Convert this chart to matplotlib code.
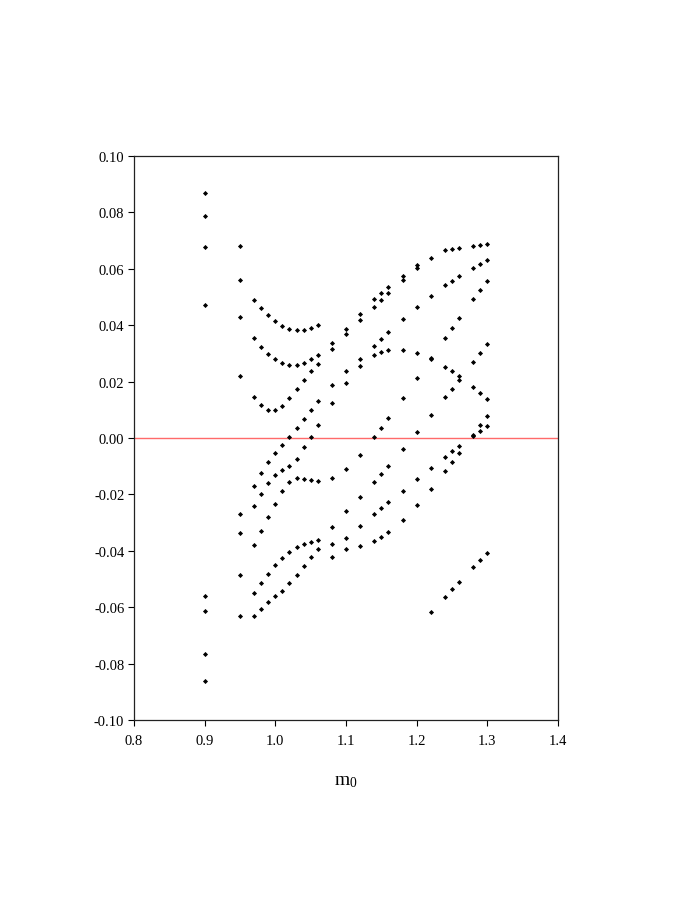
import matplotlib
matplotlib.use("Agg")
import matplotlib.pyplot as plt
from matplotlib.ticker import FormatStrFormatter

plt.rcParams['font.family'] = ['Liberation Serif', 'DejaVu Serif']
plt.rcParams['mathtext.fontset'] = 'custom'
plt.rcParams['mathtext.rm'] = 'Liberation Serif'
plt.rcParams['mathtext.it'] = 'Liberation Serif'
plt.rcParams['axes.unicode_minus'] = False

# m0 values (columns) and the eigenvalues found at each
m0 = [0.90, 0.95, 0.97, 0.98, 0.99, 1.00, 1.01, 1.02, 1.03, 1.04, 1.05, 1.06,
      1.08, 1.10, 1.12, 1.14, 1.15, 1.16, 1.18, 1.20, 1.22, 1.24, 1.25, 1.26,
      1.28, 1.29, 1.30]

values = [
    [0.0868, 0.0788, 0.0677, 0.0473, -0.0560, -0.0613, -0.0766, -0.0863],
    [0.0680, 0.0561, 0.0430, 0.0221, -0.0271, -0.0336, -0.0486, -0.0631],
    [0.0489, 0.0355, 0.0144, -0.0169, -0.0240, -0.0381, -0.0551, -0.0631],
    [0.0461, 0.0324, 0.0117, -0.0123, -0.0197, -0.0330, -0.0514, -0.0605],
    [0.0435, 0.0299, 0.0100, -0.0085, -0.0160, -0.0280, -0.0482, -0.0582],
    [0.0414, 0.0279, 0.0100, -0.0053, -0.0130, -0.0233, -0.0452, -0.0561],
    [0.0398, 0.0267, 0.0115, -0.0026, -0.0113, -0.0189, -0.0426, -0.0541],
    [0.0388, 0.0260, 0.0143, 0.0005, -0.0100, -0.0155, -0.0404, -0.0515],
    [0.0383, 0.0260, 0.0175, 0.0035, -0.0074, -0.0143, -0.0388, -0.0486],
    [0.0384, 0.0267, 0.0207, 0.0069, -0.0033, -0.0145, -0.0376, -0.0455],
    [0.0390, 0.0279, 0.0238, 0.0100, 0.0005, -0.0150, -0.0369, -0.0423],
    [0.0402, 0.0296, 0.0264, 0.0131, 0.0046, -0.0151, -0.0361, -0.0395],
    [0.0338, 0.0316, 0.0189, 0.0123, -0.0142, -0.0317, -0.0375, -0.0423],
    [0.0387, 0.0368, 0.0238, 0.0194, -0.0110, -0.0260, -0.0355, -0.0394],
    [0.0440, 0.0418, 0.0280, 0.0255, -0.0059, -0.0208, -0.0313, -0.0383],
    [0.0493, 0.0466, 0.0325, 0.0296, 0.0002, -0.0155, -0.0271, -0.0365],
    [0.0514, 0.0491, 0.0351, 0.0306, 0.0035, -0.0126, -0.0249, -0.0350],
    [0.0534, 0.0514, 0.0377, 0.0312, 0.0071, -0.0098, -0.0227, -0.0332],
    [0.0573, 0.0561, 0.0423, 0.0312, 0.0142, -0.0038, -0.0187, -0.0290],
    [0.0615, 0.0603, 0.0466, 0.0301, 0.0214, 0.0020, -0.0145, -0.0238],
    [0.0639, 0.0505, 0.0285, 0.0280, 0.0083, -0.0105, -0.0180, -0.0617],
    [0.0666, 0.0541, 0.0355, 0.0253, 0.0144, -0.0066, -0.0118, -0.0563],
    [0.0670, 0.0558, 0.0389, 0.0236, 0.0175, -0.0047, -0.0086, -0.0535],
    [0.0675, 0.0574, 0.0424, 0.0220, 0.0207, -0.0028, -0.0053, -0.0509],
    [0.0682, 0.0604, 0.0492, 0.0271, 0.0180, 0.0011, 0.0006, -0.0457],
    [0.0684, 0.0618, 0.0525, 0.0303, 0.0160, 0.0045, 0.0025, -0.0433],
    [0.0688, 0.0632, 0.0558, 0.0332, 0.0137, 0.0078, 0.0043, -0.0408],
]

xticks = [0.8, 0.9, 1.0, 1.1, 1.2, 1.3, 1.4]
yticks = [-0.10, -0.08, -0.06, -0.04, -0.02, 0.00, 0.02, 0.04, 0.06, 0.08, 0.10]
xlabel = r'$\mathregular{m_0}$'

xs = [x for x, col in zip(m0, values) for _ in col]
ys = [v for col in values for v in col]

fig = plt.figure(figsize=(6.92, 9.04), dpi=100)
ax = fig.add_axes([134/692, 1-721/904, (558-134)/692, (721-157)/904])

ax.axhline(0.0, color='#ff6a6a', lw=1.0, zorder=1)
ax.plot(xs, ys, linestyle='none', marker='D', markersize=2.6,
        color='black', markeredgewidth=0, zorder=3)

ax.set_xlim(0.8, 1.4)
ax.set_ylim(-0.10, 0.10)
ax.set_xticks(xticks)
ax.set_yticks(yticks)
ax.xaxis.set_major_formatter(FormatStrFormatter('%.1f'))
ax.yaxis.set_major_formatter(FormatStrFormatter('%.2f'))
ax.tick_params(direction='out', length=4, width=0.8, labelsize=10.5, colors='black')
ax.tick_params(axis='x', pad=6)
ax.tick_params(axis='y', pad=3)
for s in ax.spines.values():
    s.set_linewidth(0.9)
    s.set_color('#222222')

ax.set_xlabel(xlabel, fontsize=14, labelpad=18)

fig.savefig('out.png', dpi=100)
